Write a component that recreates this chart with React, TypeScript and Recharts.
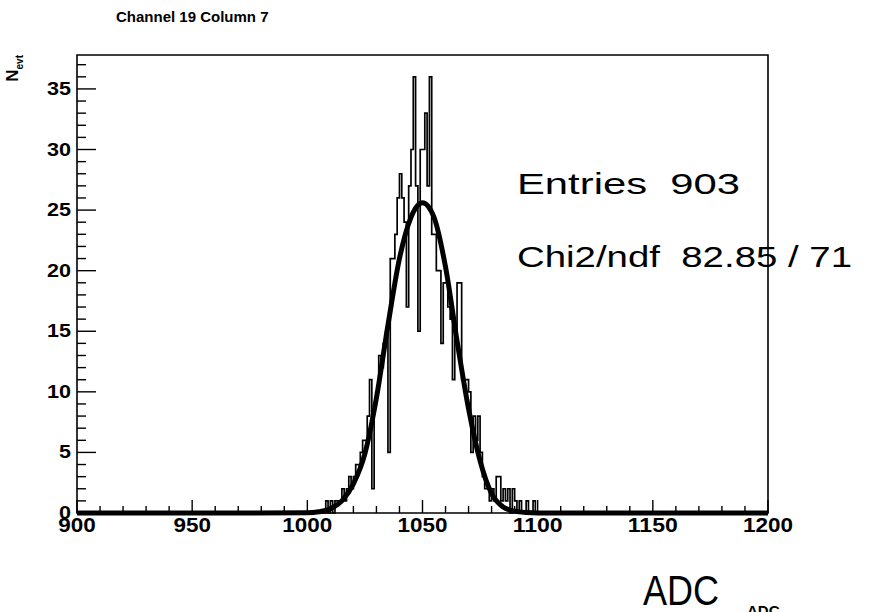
import { ComposedChart, Line, XAxis, YAxis, ReferenceArea } from 'recharts';

const title = 'Channel 19 Column 7';
const entriesText = 'Entries  903';
const chiText = 'Chi2/ndf  82.85 / 71';

// one count per 1-ADC bin, starting at binStart; every other bin is empty
const binStart = 1008;
const binCounts = [
  1, 0, 1, 0, 1, 1, 1, 2, 1, 2,
  3, 2, 3, 4, 4, 5, 6, 6, 8, 11,
  2, 9, 10, 13, 12, 14, 15, 5, 21, 21,
  23, 26, 28, 26, 24, 17, 27, 30, 36, 27,
  15, 30, 30, 33, 27, 36, 23, 23, 20, 20,
  14, 19, 19, 17, 16, 11, 15, 19, 19, 11,
  11, 11, 10, 5, 8, 6, 8, 5, 3, 2,
  2, 1, 2, 1, 3, 3, 1, 2, 1, 2,
  0, 2, 1, 0, 1, 0, 0, 1, 0, 0,
  1,
];

// gaussian fit curve
const fitAdc = [900, 950, 1000, 1005, 1010, 1015, 1020, 1025, 1030, 1035, 1040, 1045, 1050, 1055, 1060, 1065, 1070, 1075, 1080, 1085, 1090, 1095, 1100, 1150, 1200];
const fitN = [0, 0, 0.02, 0.1, 0.35, 1.0, 2.4, 4.9, 9.5, 15.5, 21, 24.4, 25.6, 24.4, 20.3, 14.2, 8.6, 4.3, 1.6, 0.5, 0.15, 0.04, 0.01, 0, 0];

const xTicks = [900, 910, 920, 930, 940, 950, 960, 970, 980, 990, 1000, 1010, 1020, 1030, 1040, 1050, 1060, 1070, 1080, 1090, 1100, 1110, 1120, 1130, 1140, 1150, 1160, 1170, 1180, 1190, 1200];
const yTicks = [0, 1, 2, 3, 4, 5, 6, 7, 8, 9, 10, 11, 12, 13, 14, 15, 16, 17, 18, 19, 20, 21, 22, 23, 24, 25, 26, 27, 28, 29, 30, 31, 32, 33, 34, 35, 36, 37];

const font = '"Liberation Sans", Arial, Helvetica, sans-serif';

const histData = [
  { adc: 900, n: 0 },
  ...binCounts.map((c, i) => ({ adc: binStart + i, n: c })),
  { adc: binStart + binCounts.length, n: 0 },
  { adc: 1200, n: 0 },
];
const fitData = fitAdc.map((a, i) => ({ adc: a, n: fitN[i] }));

function XTick(props: any) {
  const { x, y, payload } = props;
  const major = payload.value % 50 === 0;
  return (
    <g>
      <line x1={x} x2={x} y1={y} y2={y - (major ? 13 : 7)} stroke='#000' strokeWidth={1.4} />
      {major && (
        <text x={x} y={y + 19} textAnchor='middle' fontFamily={font} fontWeight='bold' fontSize={20} fill='#000'
          textLength={String(payload.value).length * 12.5} lengthAdjust='spacingAndGlyphs'>
          {payload.value}
        </text>
      )}
    </g>
  );
}

function YTick(props: any) {
  const { x, y, payload } = props;
  const major = payload.value % 5 === 0;
  return (
    <g>
      <line x1={x} x2={x + (major ? 19 : 9)} y1={y} y2={y} stroke='#000' strokeWidth={1.4} />
      {major && (
        <text x={x - 6} y={y + 6} textAnchor='end' fontFamily={font} fontWeight='bold' fontSize={19} fill='#000'
          textLength={String(payload.value).length * 12} lengthAdjust='spacingAndGlyphs'>
          {payload.value}
        </text>
      )}
    </g>
  );
}

export default function App() {
  return (
    <div style={{ position: 'absolute', left: 0, top: 0, width: 883, height: 612, background: '#fff', overflow: 'hidden' }}>
      <ComposedChart
        width={883}
        height={612}
        margin={{ top: 55, right: 115, left: 37, bottom: 69 }}
      >
        <XAxis
          type='number'
          dataKey='adc'
          domain={[900, 1200]}
          ticks={xTicks}
          interval={0}
          height={30}
          tickSize={0}
          tickMargin={0}
          axisLine={false}
          tickLine={false}
          tick={XTick}
        />
        <YAxis
          type='number'
          domain={[0, 37.8]}
          ticks={yTicks}
          interval={0}
          width={40}
          tickSize={0}
          tickMargin={0}
          axisLine={false}
          tickLine={false}
          tick={YTick}
        />
        <ReferenceArea x1={900} x2={1200} y1={0} y2={37.8} fill='none' stroke='#000' strokeWidth={1.6} />
        <Line
          data={histData}
          dataKey='n'
          type='stepAfter'
          stroke='#000'
          strokeWidth={1.7}
          dot={false}
          isAnimationActive={false}
        />
        <Line
          data={fitData}
          dataKey='n'
          type='monotone'
          stroke='#000'
          strokeWidth={5}
          dot={false}
          isAnimationActive={false}
        />
      </ComposedChart>
      <svg width={883} height={612} style={{ position: 'absolute', left: 0, top: 0, pointerEvents: 'none' }}>
        <text x={116} y={22} fontFamily={font} fontWeight='bold' fontSize={15} fill='#000'>
          {title}
        </text>
        <text transform='translate(18,55) rotate(-90)' textAnchor='end' fontFamily={font} fontWeight='bold' fontSize={17} fill='#000'>
          N<tspan dy={5} fontSize={10}>evt</tspan>
        </text>
        <text x={517} y={194} fontFamily={font} fontSize={30} fill='#000' style={{ whiteSpace: 'pre' }}
          textLength={223} lengthAdjust='spacingAndGlyphs'>
          {entriesText}
        </text>
        <text x={517} y={267} fontFamily={font} fontSize={30} fill='#000' style={{ whiteSpace: 'pre' }}
          textLength={335} lengthAdjust='spacingAndGlyphs'>
          {chiText}
        </text>
        <text x={747} y={616} fontFamily={font} fontWeight='bold' fontSize={15} fill='#000'>
          ADC
        </text>
        <text x={643} y={605} fontFamily={font} fontSize={42} fill='#000' textLength={76} lengthAdjust='spacingAndGlyphs'>
          ADC
        </text>
      </svg>
    </div>
  );
}
